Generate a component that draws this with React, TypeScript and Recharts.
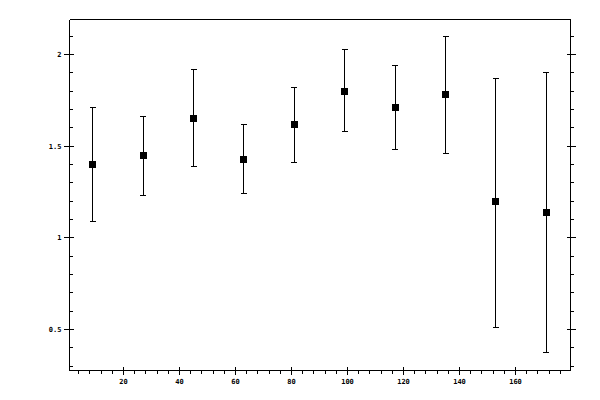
import React from "react"
import { ScatterChart, Scatter, XAxis, YAxis, ErrorBar } from "recharts"

/* Points: x, value, upper and lower ends of the bar */
const xs     = [9, 27, 45, 63, 81, 99, 117, 135, 153, 171]
const values = [1.40, 1.45, 1.65, 1.43, 1.62, 1.80, 1.71, 1.78, 1.20, 1.14]
const highs  = [1.71, 1.66, 1.92, 1.62, 1.82, 2.03, 1.94, 2.10, 1.87, 1.90]
const lows   = [1.09, 1.23, 1.39, 1.24, 1.41, 1.58, 1.48, 1.46, 0.51, 0.375]

const xMajor = [20, 40, 60, 80, 100, 120, 140, 160]
const yMajor = [0.5, 1, 1.5, 2]
const xLabels = ["20", "40", "60", "80", "100", "120", "140", "160"]
const yLabels = ["0.5", "1", "1.5", "2"]

const xDomain: [number, number] = [0.714, 179.64]
const yDomain: [number, number] = [0.2764, 2.191]

// minor ticks every 4 on x, every 0.1 on y
const xTicks = Array.from({ length: 44 }, (_, i) => (i + 1) * 4)
const yTicks = Array.from({ length: 19 }, (_, i) => (i + 3) / 10)

const data = xs.map((x, i) => ({
  x,
  y: values[i],
  err: [values[i] - lows[i], highs[i] - values[i]],
}))

const FONT = "'DejaVu Sans Mono', monospace"

const isMajorX = (v: number) => xMajor.includes(v)
const isMajorY = (v: number) => yMajor.some(m => Math.abs(m - v) < 1e-6)

const BottomTick = (p: any) => {
  const v = p.payload.value
  const major = isMajorX(v)
  const idx = xMajor.indexOf(v)
  return (
    <g>
      {major
        ? <line x1={p.x} x2={p.x} y1={p.y - 4} y2={p.y + 4} stroke="#000" />
        : <line x1={p.x} x2={p.x} y1={p.y} y2={p.y + 3} stroke="#000" />}
      {major && (
        <text x={p.x} y={p.y + 13} textAnchor="middle" fontSize={7} fontWeight="bold"
          fontFamily={FONT} fill="#000">
          {xLabels[idx]}
        </text>
      )}
    </g>
  )
}

const TopTick = (p: any) => {
  const major = isMajorX(p.payload.value)
  return major
    ? <line x1={p.x} x2={p.x} y1={p.y - 4} y2={p.y + 4} stroke="#000" />
    : <line x1={p.x} x2={p.x} y1={p.y - 3} y2={p.y} stroke="#000" />
}

const LeftTick = (p: any) => {
  const v = p.payload.value
  const major = isMajorY(v)
  const idx = yMajor.findIndex(m => Math.abs(m - v) < 1e-6)
  return (
    <g>
      {major
        ? <line x1={p.x - 6} x2={p.x + 4} y1={p.y} y2={p.y} stroke="#000" />
        : <line x1={p.x} x2={p.x + 3} y1={p.y} y2={p.y} stroke="#000" />}
      {major && (
        <text x={p.x - 8} y={p.y + 2.5} textAnchor="end" fontSize={7} fontWeight="bold"
          fontFamily={FONT} fill="#000">
          {yLabels[idx]}
        </text>
      )}
    </g>
  )
}

const RightTick = (p: any) => {
  const major = isMajorY(p.payload.value)
  return major
    ? <line x1={p.x - 4} x2={p.x + 5} y1={p.y} y2={p.y} stroke="#000" />
    : <line x1={p.x} x2={p.x + 3} y1={p.y} y2={p.y} stroke="#000" />
}

const Square = (p: any) => (
  <rect x={p.cx - 3.5} y={p.cy - 3.5} width={7} height={7} fill="#000" />
)

export default function App() {
  return (
    <div style={{ position: "absolute", left: 0, top: 0, width: 600, height: 400, background: "#fff", shapeRendering: "crispEdges" }}>
      <ScatterChart width={600} height={400}
        margin={{ top: 18.5, right: 28.5, bottom: 28.5, left: 68.5 }}>
        <XAxis xAxisId={0} dataKey="x" type="number" domain={xDomain} allowDataOverflow
          ticks={xTicks} interval={0} height={1} tickSize={0} tickMargin={0} tickLine={false}
          axisLine={{ stroke: "#000" }} tick={<BottomTick />} />
        <XAxis xAxisId="top" orientation="top" type="number" domain={xDomain} allowDataOverflow
          ticks={xTicks} interval={0} height={1} tickSize={0} tickMargin={0} tickLine={false}
          axisLine={{ stroke: "#000" }} tick={<TopTick />} />
        <YAxis yAxisId={0} dataKey="y" type="number" domain={yDomain} allowDataOverflow
          ticks={yTicks} interval={0} width={1} tickSize={0} tickMargin={0} tickLine={false}
          axisLine={{ stroke: "#000" }} tick={<LeftTick />} />
        <YAxis yAxisId="right" orientation="right" type="number" domain={yDomain} allowDataOverflow
          ticks={yTicks} interval={0} width={1} tickSize={0} tickMargin={0} tickLine={false}
          axisLine={{ stroke: "#000" }} tick={<RightTick />} />
        <Scatter data={data} xAxisId={0} yAxisId={0} shape={<Square />} isAnimationActive={false}>
          <ErrorBar dataKey="err" direction="y" width={3} stroke="#000" strokeWidth={1}
            isAnimationActive={false} />
        </Scatter>
      </ScatterChart>
    </div>
  )
}
